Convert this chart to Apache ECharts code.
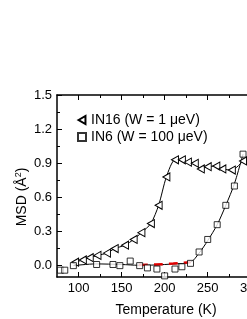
<!DOCTYPE html>
<html><head><meta charset="utf-8">
<script src="https://cdn.jsdelivr.net/npm/echarts@6/dist/echarts.min.js"></script>
<style>html,body{margin:0;padding:0;background:#fff;overflow:hidden}#c{width:270px;height:319px}</style>
</head><body><div id="c"></div>
<script>
// IN16 (W = 1 μeV) data: temperature (K), MSD (Å²)
const in16T   = [96, 105, 113, 122, 133, 142, 154, 164, 173, 184, 193, 202, 212, 220, 227, 235, 242, 250, 260, 267, 278, 291];
const in16MSD = [0.03, 0.05, 0.07, 0.09, 0.11, 0.15, 0.18, 0.23, 0.29, 0.37, 0.53, 0.78, 0.93, 0.93, 0.91, 0.90, 0.85, 0.87, 0.875, 0.85, 0.84, 0.92];
// IN6 (W = 100 μeV) data
const in6T   = [79, 84, 94, 121, 140, 148, 160, 171, 180, 191, 200, 212, 220, 230, 240, 250, 261, 271, 281, 291];
const in6MSD = [-0.04, -0.04, 0.0, 0.01, 0.01, 0.0, 0.04, 0.0, -0.02, -0.03, -0.09, -0.03, -0.01, 0.02, 0.12, 0.23, 0.36, 0.53, 0.70, 0.98];
// fitted curve for IN6
const in6FitT   = [94, 120, 150, 170, 190, 210, 230, 240, 250, 261, 271, 281, 291];
const in6FitMSD = [0.0, 0.015, 0.01, 0.003, 0.006, 0.015, 0.03, 0.11, 0.22, 0.36, 0.53, 0.72, 0.98];
// red dashed segment
const redT   = [170, 190, 210, 230];
const redMSD = [0.005, 0.01, 0.018, 0.03];
// axis ticks
const xMajor = [100, 150, 200, 250, 300];
const xMinor = [125, 175, 225, 275];
const yMajor = [0, 0.3, 0.6, 0.9, 1.2, 1.5];
const yMinor = [0.15, 0.45, 0.75, 1.05, 1.35];
const names = ['IN16 (W = 1 \u03bceV)', 'IN6 (W = 100 \u03bceV)'];

const zip = (a, b) => a.map((v, i) => [v, b[i]]);
const tri = 'path://M0,5L8.66,0L8.66,10Z';
const FONT = '"Liberation Sans", Arial, sans-serif';
const black = '#000';

function xAx(pos, vals, len, labels, line) {
  return {
    type: 'value', position: pos, min: 75, max: 320,
    axisLine: {show: line, onZero: false, lineStyle: {color: black, width: 1.5}},
    axisTick: {show: true, inside: true, length: len, customValues: vals, lineStyle: {color: black, width: 1}},
    axisLabel: labels ? {show: true, customValues: vals, color: black, fontSize: 13, fontFamily: FONT, margin: 5} : {show: false},
    splitLine: {show: false}
  };
}
function yAx(pos, vals, len, labels, line) {
  return {
    type: 'value', position: pos, min: -0.1, max: 1.5,
    axisLine: {show: line, onZero: false, lineStyle: {color: black, width: 1.5}},
    axisTick: {show: true, inside: true, length: len, customValues: vals, lineStyle: {color: black, width: 1}},
    axisLabel: labels ? {show: true, customValues: vals, color: black, fontSize: 13, fontFamily: FONT, margin: 5,
      formatter: v => v.toFixed(1)} : {show: false},
    splitLine: {show: false}
  };
}

const chart = echarts.init(document.getElementById('c'), null, {renderer: 'canvas'});
chart.setOption({
  animation: false,
  backgroundColor: '#fff',
  textStyle: {fontFamily: FONT},
  grid: {left: 57, top: 95, right: 2, bottom: 42, containLabel: false},
  xAxis: [
    xAx('bottom', xMajor, 5, true, true),
    xAx('bottom', xMinor, 3, false, false),
    xAx('top', xMajor, 5, false, true),
    xAx('top', xMinor, 3, false, false)
  ],
  yAxis: [
    yAx('left', yMajor, 5, true, true),
    yAx('left', yMinor, 3, false, false),
    yAx('right', yMajor, 5, false, true)
  ],
  legend: {
    orient: 'vertical', left: 72, top: 108, itemGap: 3, itemWidth: 8, itemHeight: 8,
    textStyle: {fontSize: 14, color: black, fontFamily: FONT},
    data: [{name: names[0], icon: tri}, {name: names[1], icon: 'rect'}]
  },
  series: [
    {
      name: '_in6fit', type: 'line', data: zip(in6FitT, in6FitMSD), smooth: 0.3,
      showSymbol: false, lineStyle: {color: black, width: 1}, z: 2, silent: true
    },
    {
      name: '_red', type: 'line', data: zip(redT, redMSD), smooth: 0.3,
      showSymbol: false, lineStyle: {color: '#e00000', width: 2.5, type: [9, 6]}, z: 3, silent: true
    },
    {
      name: names[0], type: 'line', data: zip(in16T, in16MSD), smooth: 0.25,
      symbol: tri, symbolSize: [7, 8],
      itemStyle: {color: '#fff', borderColor: black, borderWidth: 1},
      lineStyle: {color: black, width: 1}, z: 4
    },
    {
      name: names[1], type: 'scatter', data: zip(in6T, in6MSD),
      symbol: 'rect', symbolSize: 6,
      itemStyle: {color: '#fff', borderColor: black, borderWidth: 1}, z: 5
    }
  ],
  graphic: [
    {
      type: 'text', x: 22, y: 197, rotation: Math.PI / 2,
      style: {
        text: '{a|MSD (\u00c5}{s|2}{a|)}', textAlign: 'center', textVerticalAlign: 'middle',
        rich: {a: {fontSize: 14, fontFamily: FONT, fill: black}, s: {fontSize: 9, fontFamily: FONT, fill: black, verticalAlign: 'top', padding: [0, 0, 6, 0]}}
      }
    },
    {
      type: 'text', x: 166, y: 310,
      style: {text: 'Temperature (K)', fontSize: 14, fontFamily: FONT, fill: black, textAlign: 'center', textVerticalAlign: 'middle'}
    }
  ]
});
</script></body></html>
